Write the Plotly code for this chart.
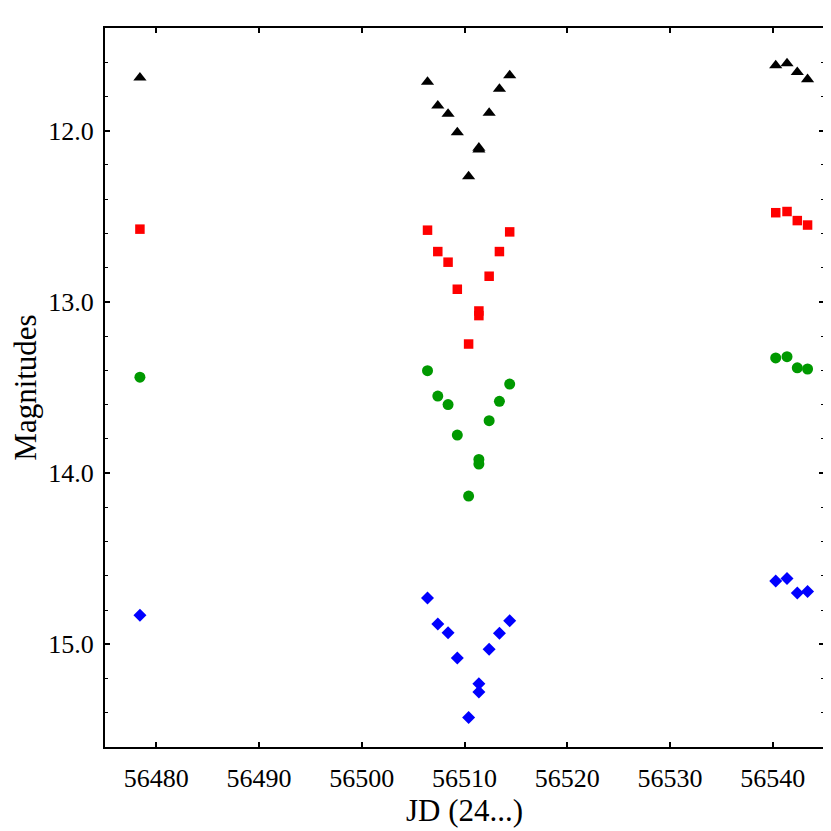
import plotly.graph_objects as go

# Julian dates (2400000 + ...)
jd = [56478.4, 56506.4, 56507.4, 56508.4, 56509.3, 56510.4, 56511.4, 56511.4,
      56512.4, 56513.4, 56514.4, 56540.3, 56541.4, 56542.4, 56543.4]

# magnitudes per band (same order as jd)
mag_tri = [11.69, 11.715, 11.854, 11.902, 12.01, 12.267, 12.10, 12.11,
           11.896, 11.756, 11.677, 11.619, 11.607, 11.658, 11.70]
mag_sq = [12.575, 12.581, 12.706, 12.768, 12.926, 13.246, 13.053, 13.080,
          12.850, 12.706, 12.591, 12.479, 12.472, 12.525, 12.551]
mag_circ = [13.44, 13.402, 13.55, 13.60, 13.778, 14.134, 13.92, 13.947,
            13.694, 13.581, 13.48, 13.327, 13.320, 13.385, 13.392]
mag_dia = [14.83, 14.729, 14.881, 14.932, 15.08, 15.427, 15.23, 15.279,
           15.029, 14.936, 14.862, 14.63, 14.616, 14.70, 14.692]

series = [
    (mag_tri, 'triangle-up', 'black', 11.5),
    (mag_sq, 'square', '#ff0000', 9.5),
    (mag_circ, 'circle', '#009900', 11),
    (mag_dia, 'diamond', '#0000ff', 10),
]

fig = go.Figure()
for mags, sym, col, sz in series:
    fig.add_trace(go.Scatter(
        x=jd, y=mags, mode='markers',
        marker=dict(symbol=sym, color=col, size=sz, line=dict(width=0)),
        showlegend=False,
    ))

font = dict(family='Liberation Serif', size=26, color='black')

# page body has an 8px margin, so the figure is a bit smaller than the window
fig.update_layout(
    width=823, height=823,
    margin=dict(l=94, r=5, t=20, b=84),
    plot_bgcolor='white', paper_bgcolor='white',
    font=font,
)
fig.update_xaxes(
    range=[56475, 56545], dtick=10, tick0=56480, tickformat='d',
    showgrid=False, zeroline=False,
    showline=True, linecolor='black', linewidth=2, mirror='ticks',
    ticks='inside', ticklen=5, tickwidth=1.5, tickcolor='black',
    title=dict(text='JD (24...)', standoff=5),
    tickfont=font, ticklabelstandoff=7,
)
fig.update_yaxes(
    range=[15.6, 11.4], dtick=1, tick0=12, tickformat='.1f',
    showgrid=False, zeroline=False,
    showline=True, linecolor='black', linewidth=2, mirror='ticks',
    ticks='inside', ticklen=5, tickwidth=1.5, tickcolor='black',
    minor=dict(dtick=0.2, ticks='inside', ticklen=3, tickwidth=1, tickcolor='black', showgrid=False),
    title=dict(text='Magnitudes', standoff=14),
    tickfont=font, ticklabelstandoff=4,
)

fig.write_html('out.html')
